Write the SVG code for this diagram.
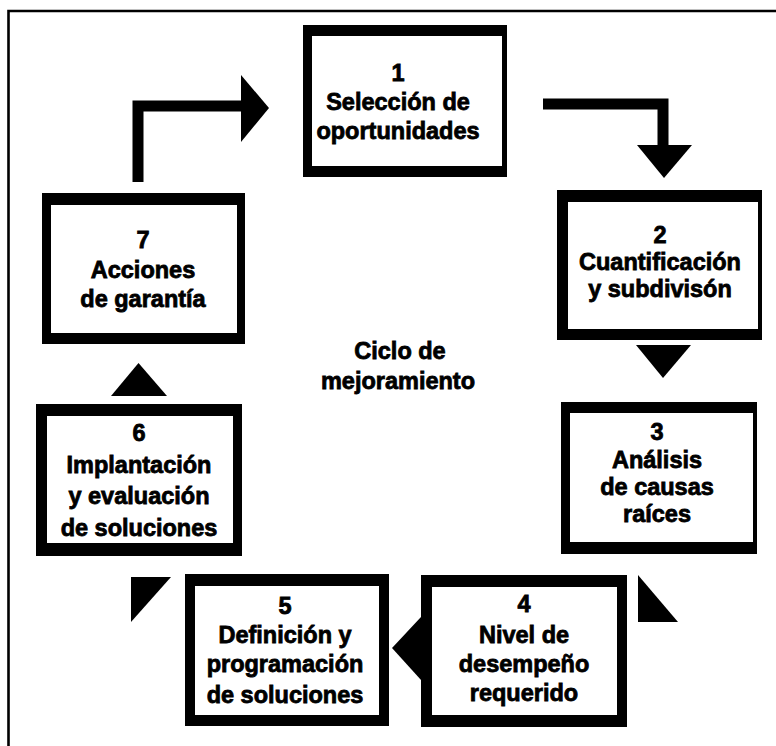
<svg xmlns="http://www.w3.org/2000/svg" width="776" height="746" viewBox="0 0 776 746">
  <style>
    .frame { stroke: #000; stroke-width: 2.6; fill: none; }
    .edge { fill: #000; }
    .face { fill: #fff; }
    .lbl { font-family: "Liberation Sans", Arial, sans-serif; font-weight: bold; font-size: 23.5px; fill: #000; stroke: #000; stroke-width: 0.8; text-anchor: middle; }
    .shaft { fill: none; stroke: #000; stroke-width: 11; stroke-linejoin: miter; }
    .head { fill: #000; }
  </style>
  <rect x="0" y="0" width="776" height="746" fill="#fff"/>

  <!-- page frame: top and left rules only -->
  <path class="frame" d="M776,11 H8.5 V746"/>

  <!-- 1 -->
  <g id="node1">
    <rect class="edge" x="303" y="25" width="204" height="152"/>
    <rect class="face" x="312" y="36" width="190" height="130"/>
    <text class="lbl" x="398" y="81">1</text>
    <text class="lbl" x="398" y="110">Selección de</text>
    <text class="lbl" x="398" y="139">oportunidades</text>
  </g>

  <!-- 2 -->
  <g id="node2">
    <rect class="edge" x="557" y="190" width="205" height="150"/>
    <rect class="face" x="568" y="202" width="190" height="127"/>
    <text class="lbl" x="660" y="243">2</text>
    <text class="lbl" x="660" y="270">Cuantificación</text>
    <text class="lbl" x="660" y="297">y subdivisón</text>
  </g>

  <!-- 3 -->
  <g id="node3">
    <rect class="edge" x="561" y="402" width="196" height="152"/>
    <rect class="face" x="570" y="413" width="183" height="129"/>
    <text class="lbl" x="657" y="440">3</text>
    <text class="lbl" x="657" y="468">Análisis</text>
    <text class="lbl" x="657" y="495">de causas</text>
    <text class="lbl" x="657" y="522">raíces</text>
  </g>

  <!-- 4 -->
  <g id="node4">
    <rect class="edge" x="421" y="575" width="206" height="152"/>
    <rect class="face" x="432" y="587" width="185" height="128"/>
    <text class="lbl" x="524" y="612">4</text>
    <text class="lbl" x="524" y="643">Nivel de</text>
    <text class="lbl" x="524" y="672">desempeño</text>
    <text class="lbl" x="524" y="701">requerido</text>
  </g>

  <!-- 5 -->
  <g id="node5">
    <rect class="edge" x="185" y="574" width="204" height="152"/>
    <rect class="face" x="195" y="586" width="184" height="129"/>
    <text class="lbl" x="285" y="614">5</text>
    <text class="lbl" x="285" y="643">Definición y</text>
    <text class="lbl" x="285" y="672">programación</text>
    <text class="lbl" x="285" y="703">de soluciones</text>
  </g>

  <!-- 6 -->
  <g id="node6">
    <rect class="edge" x="36" y="404" width="206" height="152"/>
    <rect class="face" x="47" y="416" width="186" height="127"/>
    <text class="lbl" x="139" y="441">6</text>
    <text class="lbl" x="139" y="473">Implantación</text>
    <text class="lbl" x="139" y="504">y evaluación</text>
    <text class="lbl" x="139" y="536">de soluciones</text>
  </g>

  <!-- 7 -->
  <g id="node7">
    <rect class="edge" x="42" y="193" width="203" height="151"/>
    <rect class="face" x="51" y="205" width="186" height="128"/>
    <text class="lbl" x="143" y="248">7</text>
    <text class="lbl" x="143" y="278">Acciones</text>
    <text class="lbl" x="143" y="307">de garantía</text>
  </g>

  <!-- centre caption -->
  <g id="caption">
    <text class="lbl" x="400" y="359">Ciclo de</text>
    <text class="lbl" x="398" y="389">mejoramiento</text>
  </g>

  <!-- cycle connectors -->
  <g id="connectors">
    <path class="shaft" d="M138,182 V106 H242"/>
    <polygon class="head" points="241,75 269,108 241,142"/>
    <path class="shaft" d="M543,104 H663 V146"/>
    <polygon class="head" points="637,145 692,145 664,178"/>
    <polygon class="head" points="636,345 691,345 663,378"/>
    <polygon class="head" points="638,575 638,622 678,622"/>
    <polygon class="head" points="392,648 421,617 421,680"/>
    <polygon class="head" points="131,577 171,577 131,622"/>
    <polygon class="head" points="111,396 167,396 138.5,363"/>
  </g>
</svg>
